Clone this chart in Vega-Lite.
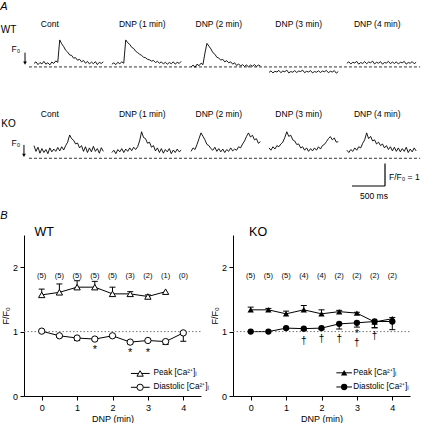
{
"$schema":"https://vega.github.io/schema/vega-lite/v6.json",
"padding":0,
"spacing":2,
"center":false,
"config":{"view":{"stroke":null},"font":"Liberation Sans","text":{"font":"Liberation Sans","color":"black"},"axis":{"labelFont":"Liberation Sans","titleFont":"Liberation Sans","grid":false,"domainColor":"black","tickColor":"black","labelColor":"black","titleColor":"black","titleFontWeight":"normal","labelOverlap":false,"labelFlush":false}},
"datasets":{
"wt":[
{"s":0,"t":0,"v":1.15},{"s":0,"t":30,"v":1.22},{"s":0,"t":60,"v":1.10},{"s":0,"t":90,"v":1.19},{"s":0,"t":120,"v":1.13},{"s":0,"t":150,"v":1.24},{"s":0,"t":180,"v":1.12},{"s":0,"t":210,"v":1.18},{"s":0,"t":240,"v":1.09},{"s":0,"t":270,"v":1.21},{"s":0,"t":300,"v":1.15},{"s":0,"t":330,"v":1.26},{"s":0,"t":360,"v":1.20},{"s":0,"t":390,"v":2.17},{"s":0,"t":420,"v":2.0},{"s":0,"t":450,"v":1.88},{"s":0,"t":480,"v":1.72},{"s":0,"t":510,"v":1.64},{"s":0,"t":540,"v":1.52},{"s":0,"t":570,"v":1.5},{"s":0,"t":600,"v":1.38},{"s":0,"t":630,"v":1.4},{"s":0,"t":660,"v":1.29},{"s":0,"t":690,"v":1.33},{"s":0,"t":720,"v":1.22},{"s":0,"t":750,"v":1.28},{"s":0,"t":780,"v":1.16},{"s":0,"t":810,"v":1.24},{"s":0,"t":840,"v":1.13},{"s":0,"t":870,"v":1.21},{"s":0,"t":900,"v":1.14},{"s":0,"t":930,"v":1.23},{"s":0,"t":960,"v":1.1},{"s":0,"t":990,"v":1.2},{"s":0,"t":1020,"v":1.15},{"s":0,"t":1050,"v":1.22},
{"s":1,"t":1180,"v":1.12},{"s":1,"t":1210,"v":1.18},{"s":1,"t":1240,"v":1.1},{"s":1,"t":1270,"v":1.2},{"s":1,"t":1300,"v":1.14},{"s":1,"t":1330,"v":1.22},{"s":1,"t":1360,"v":1.16},{"s":1,"t":1390,"v":2.17},{"s":1,"t":1420,"v":2.05},{"s":1,"t":1450,"v":1.98},{"s":1,"t":1480,"v":1.85},{"s":1,"t":1510,"v":1.8},{"s":1,"t":1540,"v":1.68},{"s":1,"t":1570,"v":1.62},{"s":1,"t":1600,"v":1.55},{"s":1,"t":1630,"v":1.5},{"s":1,"t":1660,"v":1.42},{"s":1,"t":1690,"v":1.4},{"s":1,"t":1720,"v":1.33},{"s":1,"t":1750,"v":1.31},{"s":1,"t":1780,"v":1.25},{"s":1,"t":1810,"v":1.28},{"s":1,"t":1840,"v":1.19},{"s":1,"t":1870,"v":1.24},{"s":1,"t":1900,"v":1.16},{"s":1,"t":1930,"v":1.22},{"s":1,"t":1960,"v":1.13},{"s":1,"t":1990,"v":1.2},{"s":1,"t":2020,"v":1.12},{"s":1,"t":2050,"v":1.19},{"s":1,"t":2080,"v":1.14},{"s":1,"t":2110,"v":1.22},{"s":1,"t":2140,"v":1.12},{"s":1,"t":2170,"v":1.2},{"s":1,"t":2200,"v":1.15},{"s":1,"t":2230,"v":1.24},
{"s":2,"t":2380,"v":1.0},{"s":2,"t":2410,"v":1.08},{"s":2,"t":2440,"v":0.98},{"s":2,"t":2470,"v":1.12},{"s":2,"t":2500,"v":1.05},{"s":2,"t":2530,"v":1.16},{"s":2,"t":2560,"v":1.1},{"s":2,"t":2590,"v":1.6},{"s":2,"t":2620,"v":2.02},{"s":2,"t":2650,"v":1.9},{"s":2,"t":2680,"v":1.78},{"s":2,"t":2710,"v":1.62},{"s":2,"t":2740,"v":1.55},{"s":2,"t":2770,"v":1.42},{"s":2,"t":2800,"v":1.38},{"s":2,"t":2830,"v":1.3},{"s":2,"t":2860,"v":1.33},{"s":2,"t":2890,"v":1.22},{"s":2,"t":2920,"v":1.27},{"s":2,"t":2950,"v":1.18},{"s":2,"t":2980,"v":1.22},{"s":2,"t":3010,"v":1.12},{"s":2,"t":3040,"v":1.18},{"s":2,"t":3070,"v":1.06},{"s":2,"t":3100,"v":1.13},{"s":2,"t":3130,"v":1.04},{"s":2,"t":3160,"v":1.1},{"s":2,"t":3190,"v":1.02},{"s":2,"t":3220,"v":1.09},{"s":2,"t":3250,"v":1.0},{"s":2,"t":3280,"v":1.08},{"s":2,"t":3310,"v":1.03},{"s":2,"t":3340,"v":1.1},{"s":2,"t":3370,"v":1.02},{"s":2,"t":3400,"v":1.08},{"s":2,"t":3430,"v":1.04},
{"s":3,"t":3560,"v":0.76},{"s":3,"t":3590,"v":0.83},{"s":3,"t":3620,"v":0.74},{"s":3,"t":3650,"v":0.81},{"s":3,"t":3680,"v":0.78},{"s":3,"t":3710,"v":0.85},{"s":3,"t":3740,"v":0.75},{"s":3,"t":3770,"v":0.82},{"s":3,"t":3800,"v":0.79},{"s":3,"t":3830,"v":0.86},{"s":3,"t":3860,"v":0.74},{"s":3,"t":3890,"v":0.8},{"s":3,"t":3920,"v":0.77},{"s":3,"t":3950,"v":0.84},{"s":3,"t":3980,"v":0.76},{"s":3,"t":4010,"v":0.82},{"s":3,"t":4040,"v":0.8},{"s":3,"t":4070,"v":0.86},{"s":3,"t":4100,"v":0.75},{"s":3,"t":4130,"v":0.81},{"s":3,"t":4160,"v":0.78},{"s":3,"t":4190,"v":0.84},{"s":3,"t":4220,"v":0.74},{"s":3,"t":4250,"v":0.8},{"s":3,"t":4280,"v":0.77},{"s":3,"t":4310,"v":0.83},{"s":3,"t":4340,"v":0.76},{"s":3,"t":4370,"v":0.82},{"s":3,"t":4400,"v":0.79},{"s":3,"t":4430,"v":0.85},{"s":3,"t":4460,"v":0.75},{"s":3,"t":4490,"v":0.81},{"s":3,"t":4520,"v":0.78},{"s":3,"t":4550,"v":0.84},{"s":3,"t":4580,"v":0.73},{"s":3,"t":4610,"v":0.8},
{"s":4,"t":4740,"v":1.16},{"s":4,"t":4770,"v":1.22},{"s":4,"t":4800,"v":1.13},{"s":4,"t":4830,"v":1.2},{"s":4,"t":4860,"v":1.17},{"s":4,"t":4890,"v":1.24},{"s":4,"t":4920,"v":1.12},{"s":4,"t":4950,"v":1.19},{"s":4,"t":4980,"v":1.15},{"s":4,"t":5010,"v":1.23},{"s":4,"t":5040,"v":1.14},{"s":4,"t":5070,"v":1.21},{"s":4,"t":5100,"v":1.18},{"s":4,"t":5130,"v":1.25},{"s":4,"t":5160,"v":1.13},{"s":4,"t":5190,"v":1.2},{"s":4,"t":5220,"v":1.16},{"s":4,"t":5250,"v":1.23},{"s":4,"t":5280,"v":1.12},{"s":4,"t":5310,"v":1.19},{"s":4,"t":5340,"v":1.17},{"s":4,"t":5370,"v":1.24},{"s":4,"t":5400,"v":1.14},{"s":4,"t":5430,"v":1.21},{"s":4,"t":5460,"v":1.15},{"s":4,"t":5490,"v":1.22},{"s":4,"t":5520,"v":1.13},{"s":4,"t":5550,"v":1.2},{"s":4,"t":5580,"v":1.18},{"s":4,"t":5610,"v":1.24},{"s":4,"t":5640,"v":1.12},{"s":4,"t":5670,"v":1.19},{"s":4,"t":5700,"v":1.16},{"s":4,"t":5730,"v":1.23},{"s":4,"t":5760,"v":1.14},{"s":4,"t":5790,"v":1.2}
],
"ko":[
{"s":0,"t":0,"v":1.55},{"s":0,"t":30,"v":1.3},{"s":0,"t":60,"v":1.48},{"s":0,"t":90,"v":1.22},{"s":0,"t":120,"v":1.42},{"s":0,"t":150,"v":1.25},{"s":0,"t":180,"v":1.38},{"s":0,"t":210,"v":1.2},{"s":0,"t":240,"v":1.45},{"s":0,"t":270,"v":1.28},{"s":0,"t":300,"v":1.4},{"s":0,"t":330,"v":1.3},{"s":0,"t":360,"v":1.47},{"s":0,"t":390,"v":1.32},{"s":0,"t":420,"v":1.5},{"s":0,"t":450,"v":1.36},{"s":0,"t":480,"v":1.55},{"s":0,"t":510,"v":1.7},{"s":0,"t":540,"v":2.01},{"s":0,"t":570,"v":1.85},{"s":0,"t":600,"v":1.78},{"s":0,"t":630,"v":1.62},{"s":0,"t":660,"v":1.66},{"s":0,"t":690,"v":1.45},{"s":0,"t":720,"v":1.55},{"s":0,"t":750,"v":1.3},{"s":0,"t":780,"v":1.5},{"s":0,"t":810,"v":1.25},{"s":0,"t":840,"v":1.45},{"s":0,"t":870,"v":1.28},{"s":0,"t":900,"v":1.52},{"s":0,"t":930,"v":1.3},{"s":0,"t":960,"v":1.42},{"s":0,"t":990,"v":1.22},{"s":0,"t":1020,"v":1.46},{"s":0,"t":1050,"v":1.3},
{"s":1,"t":1180,"v":1.25},{"s":1,"t":1210,"v":1.35},{"s":1,"t":1240,"v":1.2},{"s":1,"t":1270,"v":1.38},{"s":1,"t":1300,"v":1.28},{"s":1,"t":1330,"v":1.42},{"s":1,"t":1360,"v":1.25},{"s":1,"t":1390,"v":1.4},{"s":1,"t":1420,"v":1.3},{"s":1,"t":1450,"v":1.45},{"s":1,"t":1480,"v":1.33},{"s":1,"t":1510,"v":1.48},{"s":1,"t":1540,"v":1.38},{"s":1,"t":1570,"v":1.5},{"s":1,"t":1600,"v":1.75},{"s":1,"t":1630,"v":2.15},{"s":1,"t":1660,"v":1.9},{"s":1,"t":1690,"v":1.85},{"s":1,"t":1720,"v":1.65},{"s":1,"t":1750,"v":1.7},{"s":1,"t":1780,"v":1.48},{"s":1,"t":1810,"v":1.55},{"s":1,"t":1840,"v":1.32},{"s":1,"t":1870,"v":1.45},{"s":1,"t":1900,"v":1.25},{"s":1,"t":1930,"v":1.42},{"s":1,"t":1960,"v":1.22},{"s":1,"t":1990,"v":1.38},{"s":1,"t":2020,"v":1.28},{"s":1,"t":2050,"v":1.42},{"s":1,"t":2080,"v":1.2},{"s":1,"t":2110,"v":1.36},{"s":1,"t":2140,"v":1.25},{"s":1,"t":2170,"v":1.4},{"s":1,"t":2200,"v":1.28},{"s":1,"t":2230,"v":1.35},
{"s":2,"t":2380,"v":1.3},{"s":2,"t":2410,"v":1.45},{"s":2,"t":2440,"v":1.38},{"s":2,"t":2470,"v":1.6},{"s":2,"t":2500,"v":1.85},{"s":2,"t":2530,"v":2.1},{"s":2,"t":2560,"v":1.95},{"s":2,"t":2590,"v":1.8},{"s":2,"t":2620,"v":1.6},{"s":2,"t":2650,"v":1.55},{"s":2,"t":2680,"v":1.42},{"s":2,"t":2710,"v":1.35},{"s":2,"t":2740,"v":1.48},{"s":2,"t":2770,"v":1.3},{"s":2,"t":2800,"v":1.42},{"s":2,"t":2830,"v":1.28},{"s":2,"t":2860,"v":1.4},{"s":2,"t":2890,"v":1.25},{"s":2,"t":2920,"v":1.38},{"s":2,"t":2950,"v":1.3},{"s":2,"t":2980,"v":1.45},{"s":2,"t":3010,"v":1.32},{"s":2,"t":3040,"v":1.4},{"s":2,"t":3070,"v":1.35},{"s":2,"t":3100,"v":1.5},{"s":2,"t":3130,"v":1.45},{"s":2,"t":3160,"v":1.62},{"s":2,"t":3190,"v":1.75},{"s":2,"t":3220,"v":1.95},{"s":2,"t":3250,"v":2.1},{"s":2,"t":3280,"v":1.92},{"s":2,"t":3310,"v":2.0},{"s":2,"t":3340,"v":1.8},{"s":2,"t":3370,"v":1.85},{"s":2,"t":3400,"v":1.65},{"s":2,"t":3430,"v":1.72},
{"s":3,"t":3560,"v":1.45},{"s":3,"t":3590,"v":1.35},{"s":3,"t":3620,"v":1.5},{"s":3,"t":3650,"v":1.4},{"s":3,"t":3680,"v":1.55},{"s":3,"t":3710,"v":1.5},{"s":3,"t":3740,"v":1.62},{"s":3,"t":3770,"v":1.7},{"s":3,"t":3800,"v":1.9},{"s":3,"t":3830,"v":2.15},{"s":3,"t":3860,"v":1.95},{"s":3,"t":3890,"v":2.0},{"s":3,"t":3920,"v":1.8},{"s":3,"t":3950,"v":1.75},{"s":3,"t":3980,"v":1.6},{"s":3,"t":4010,"v":1.62},{"s":3,"t":4040,"v":1.45},{"s":3,"t":4070,"v":1.5},{"s":3,"t":4100,"v":1.35},{"s":3,"t":4130,"v":1.45},{"s":3,"t":4160,"v":1.3},{"s":3,"t":4190,"v":1.42},{"s":3,"t":4220,"v":1.32},{"s":3,"t":4250,"v":1.45},{"s":3,"t":4280,"v":1.35},{"s":3,"t":4310,"v":1.5},{"s":3,"t":4340,"v":1.4},{"s":3,"t":4370,"v":1.55},{"s":3,"t":4400,"v":1.6},{"s":3,"t":4430,"v":1.72},{"s":3,"t":4460,"v":1.85},{"s":3,"t":4490,"v":1.94},{"s":3,"t":4520,"v":1.8},{"s":3,"t":4550,"v":1.88},{"s":3,"t":4580,"v":1.7},{"s":3,"t":4610,"v":1.72},
{"s":4,"t":4740,"v":1.35},{"s":4,"t":4770,"v":1.25},{"s":4,"t":4800,"v":1.38},{"s":4,"t":4830,"v":1.3},{"s":4,"t":4860,"v":1.45},{"s":4,"t":4890,"v":1.35},{"s":4,"t":4920,"v":1.5},{"s":4,"t":4950,"v":1.45},{"s":4,"t":4980,"v":1.65},{"s":4,"t":5010,"v":1.8},{"s":4,"t":5040,"v":2.1},{"s":4,"t":5070,"v":1.85},{"s":4,"t":5100,"v":1.95},{"s":4,"t":5130,"v":1.75},{"s":4,"t":5160,"v":1.8},{"s":4,"t":5190,"v":1.62},{"s":4,"t":5220,"v":1.7},{"s":4,"t":5250,"v":1.55},{"s":4,"t":5280,"v":1.62},{"s":4,"t":5310,"v":1.45},{"s":4,"t":5340,"v":1.55},{"s":4,"t":5370,"v":1.38},{"s":4,"t":5400,"v":1.5},{"s":4,"t":5430,"v":1.32},{"s":4,"t":5460,"v":1.48},{"s":4,"t":5490,"v":1.3},{"s":4,"t":5520,"v":1.45},{"s":4,"t":5550,"v":1.28},{"s":4,"t":5580,"v":1.42},{"s":4,"t":5610,"v":1.3},{"s":4,"t":5640,"v":1.48},{"s":4,"t":5670,"v":1.25},{"s":4,"t":5700,"v":1.4},{"s":4,"t":5730,"v":1.28},{"s":4,"t":5760,"v":1.45},{"s":4,"t":5790,"v":1.32}
],
"lab":[{"lab":"Cont","t":240},{"lab":"DNP (1 min)","t":1640},{"lab":"DNP (2 min)","t":2800},{"lab":"DNP (3 min)","t":4010},{"lab":"DNP (4 min)","t":5200}],
"b":[
{"p":"WT","ser":"Peak","x":0,"y":1.57,"e":1.66},{"p":"WT","ser":"Peak","x":0.5,"y":1.61,"e":1.74},{"p":"WT","ser":"Peak","x":1,"y":1.69,"e":1.79},{"p":"WT","ser":"Peak","x":1.5,"y":1.69,"e":1.78},{"p":"WT","ser":"Peak","x":2,"y":1.586,"e":1.69},{"p":"WT","ser":"Peak","x":2.5,"y":1.586,"e":1.62},{"p":"WT","ser":"Peak","x":3,"y":1.545,"e":1.57},{"p":"WT","ser":"Peak","x":3.5,"y":1.62},
{"p":"WT","ser":"Diastolic","x":0,"y":1.007},{"p":"WT","ser":"Diastolic","x":0.5,"y":0.935,"e":0.91},{"p":"WT","ser":"Diastolic","x":1,"y":0.9,"e":0.862},{"p":"WT","ser":"Diastolic","x":1.5,"y":0.884,"e":0.86},{"p":"WT","ser":"Diastolic","x":2,"y":0.935,"e":0.91},{"p":"WT","ser":"Diastolic","x":2.5,"y":0.837,"e":0.81},{"p":"WT","ser":"Diastolic","x":3,"y":0.862,"e":0.84},{"p":"WT","ser":"Diastolic","x":3.5,"y":0.845,"e":0.8},{"p":"WT","ser":"Diastolic","x":4,"y":0.98,"e":0.85},
{"p":"KO","ser":"Peak","x":0,"y":1.338,"e":1.38},{"p":"KO","ser":"Peak","x":0.5,"y":1.338,"e":1.36},{"p":"KO","ser":"Peak","x":1,"y":1.276,"e":1.318},{"p":"KO","ser":"Peak","x":1.5,"y":1.338,"e":1.405},{"p":"KO","ser":"Peak","x":2,"y":1.276,"e":1.338},{"p":"KO","ser":"Peak","x":2.5,"y":1.31,"e":1.33},{"p":"KO","ser":"Peak","x":3,"y":1.287,"e":1.3},{"p":"KO","ser":"Peak","x":3.5,"y":1.15,"e":1.06},{"p":"KO","ser":"Peak","x":4,"y":1.2,"e":1.22},
{"p":"KO","ser":"Diastolic","x":0,"y":1.0},{"p":"KO","ser":"Diastolic","x":0.5,"y":1.0},{"p":"KO","ser":"Diastolic","x":1,"y":1.054,"e":1.04},{"p":"KO","ser":"Diastolic","x":1.5,"y":1.046,"e":1.02},{"p":"KO","ser":"Diastolic","x":2,"y":1.054,"e":1.03},{"p":"KO","ser":"Diastolic","x":2.5,"y":1.12,"e":1.04},{"p":"KO","ser":"Diastolic","x":3,"y":1.136,"e":1.07},{"p":"KO","ser":"Diastolic","x":3.5,"y":1.157,"e":1.06},{"p":"KO","ser":"Diastolic","x":4,"y":1.157,"e":1.03}
],
"n":[
{"p":"WT","x":0,"n":"(5)"},{"p":"WT","x":0.5,"n":"(5)"},{"p":"WT","x":1,"n":"(5)"},{"p":"WT","x":1.5,"n":"(5)"},{"p":"WT","x":2,"n":"(5)"},{"p":"WT","x":2.5,"n":"(3)"},{"p":"WT","x":3,"n":"(2)"},{"p":"WT","x":3.5,"n":"(1)"},{"p":"WT","x":4,"n":"(0)"},
{"p":"KO","x":0,"n":"(5)"},{"p":"KO","x":0.5,"n":"(5)"},{"p":"KO","x":1,"n":"(5)"},{"p":"KO","x":1.5,"n":"(4)"},{"p":"KO","x":2,"n":"(4)"},{"p":"KO","x":2.5,"n":"(2)"},{"p":"KO","x":3,"n":"(2)"},{"p":"KO","x":3.5,"n":"(2)"},{"p":"KO","x":4,"n":"(2)"}
],
"sig":[
{"p":"WT","x":1.5,"y":0.76,"m":"*"},{"p":"WT","x":2.5,"y":0.71,"m":"*"},{"p":"WT","x":3,"y":0.71,"m":"*"},
{"p":"KO","x":1.5,"y":0.89,"m":"†"},{"p":"KO","x":2,"y":0.915,"m":"†"},{"p":"KO","x":2.5,"y":0.92,"m":"†"},{"p":"KO","x":3,"y":0.85,"m":"†"},{"p":"KO","x":3.5,"y":0.966,"m":"†"},{"p":"KO","x":3,"y":1.0,"m":"*"}
]
},
"vconcat":[
{"vconcat":[
{"width":401,"height":90,
"layer":[
{"data":{"name":"wt"},"mark":{"type":"line","color":"black","strokeWidth":0.9},"encoding":{"x":{"field":"t","type":"quantitative","scale":{"domain":[-151.5,5924],"nice":false,"zero":false},"axis":null},"y":{"field":"v","type":"quantitative","scale":{"domain":[0,3.9],"nice":false,"zero":false},"axis":null},"detail":{"field":"s"}}},
{"data":{"values":[{}]},"mark":{"type":"rule","strokeDash":[3,2],"color":"black","strokeWidth":0.8},"encoding":{"x":{"datum":-76},"x2":{"datum":5850},"y":{"datum":1}}},
{"data":{"name":"lab"},"mark":{"type":"text","fontSize":8.5,"color":"black"},"encoding":{"x":{"field":"t","type":"quantitative"},"y":{"datum":2.86},"text":{"field":"lab"}}},
{"data":{"values":[{}]},"mark":{"type":"text","text":"WT","fontSize":10,"color":"black"},"encoding":{"x":{"datum":-386},"y":{"datum":2.6}}},
{"data":{"values":[{}]},"mark":{"type":"text","text":"A","fontSize":11,"fontStyle":"italic","color":"black"},"encoding":{"x":{"datum":-455},"y":{"datum":3.6}}},
{"data":{"values":[{}]},"mark":{"type":"text","text":"F₀","fontSize":8.5,"color":"black"},"encoding":{"x":{"datum":-273},"y":{"datum":1.78}}},
{"data":{"values":[{}]},"mark":{"type":"rule","color":"black","strokeWidth":1},"encoding":{"x":{"datum":-136},"y":{"datum":1.62},"y2":{"datum":1.2}}},
{"data":{"values":[{}]},"mark":{"type":"point","shape":"triangle-down","filled":true,"color":"black","opacity":1,"size":14},"encoding":{"x":{"datum":-136},"y":{"datum":1.16}}}
]},
{"width":401,"height":134,
"layer":[
{"data":{"name":"ko"},"mark":{"type":"line","color":"black","strokeWidth":0.9},"encoding":{"x":{"field":"t","type":"quantitative","scale":{"domain":[-151.5,5924],"nice":false,"zero":false},"axis":null},"y":{"field":"v","type":"quantitative","scale":{"domain":[-1.847,3.959],"nice":false,"zero":false},"axis":null},"detail":{"field":"s"}}},
{"data":{"values":[{}]},"mark":{"type":"rule","strokeDash":[3,2],"color":"black","strokeWidth":0.8},"encoding":{"x":{"datum":-76},"x2":{"datum":5850},"y":{"datum":1}}},
{"data":{"name":"lab"},"mark":{"type":"text","fontSize":8.5,"color":"black"},"encoding":{"x":{"field":"t","type":"quantitative"},"y":{"datum":2.92},"text":{"field":"lab"}}},
{"data":{"values":[{}]},"mark":{"type":"text","text":"KO","fontSize":10,"color":"black"},"encoding":{"x":{"datum":-386},"y":{"datum":2.49}}},
{"data":{"values":[{}]},"mark":{"type":"text","text":"F₀","fontSize":8.5,"color":"black"},"encoding":{"x":{"datum":-273},"y":{"datum":1.66}}},
{"data":{"values":[{}]},"mark":{"type":"rule","color":"black","strokeWidth":1},"encoding":{"x":{"datum":-152},"y":{"datum":1.58},"y2":{"datum":1.18}}},
{"data":{"values":[{}]},"mark":{"type":"point","shape":"triangle-down","filled":true,"color":"black","opacity":1,"size":14},"encoding":{"x":{"datum":-152},"y":{"datum":1.13}}},
{"data":{"values":[{}]},"mark":{"type":"rule","color":"black","strokeWidth":1.2},"encoding":{"x":{"datum":5318},"y":{"datum":0.77},"y2":{"datum":-0.2}}},
{"data":{"values":[{}]},"mark":{"type":"rule","color":"black","strokeWidth":1.2},"encoding":{"x":{"datum":4818},"x2":{"datum":5318},"y":{"datum":-0.2}}},
{"data":{"values":[{}]},"mark":{"type":"text","text":"F/F₀ = 1","fontSize":8.5,"align":"left","color":"black"},"encoding":{"x":{"datum":5378},"y":{"datum":0.19}}},
{"data":{"values":[{}]},"mark":{"type":"text","text":"500 ms","fontSize":8.5,"color":"black"},"encoding":{"x":{"datum":5151},"y":{"datum":-0.63}}},
{"data":{"values":[{}]},"mark":{"type":"text","text":"B","fontSize":11,"fontStyle":"italic","color":"black"},"encoding":{"x":{"datum":-455},"y":{"datum":-1.5}}}
]}
],"spacing":0,"center":false},
{"hconcat":[
{"width":177,"height":161,
"layer":[
{"data":{"name":"b"},"transform":[{"filter":"datum.p==='WT'"}],"mark":{"type":"line","color":"black","strokeWidth":1},"encoding":{"x":{"field":"x","type":"quantitative","scale":{"domain":[-0.5,4.5],"nice":false,"zero":false},"axis":{"title":"DNP (min)","values":[0,1,2,3,4],"tickSize":4,"labelPadding":3,"labelFontSize":9,"titleFontSize":9,"titlePadding":2}},"y":{"field":"y","type":"quantitative","scale":{"domain":[0,2.5],"nice":false},"axis":{"title":"F/F₀","values":[0,0.5,1,1.5,2,2.5],"labelExpr":"datum.value % 1 === 0 ? format(datum.value, 'd') : ''","tickSize":4,"labelPadding":2.5,"labelFontSize":9,"titleFontSize":9,"titlePadding":1.5}},"detail":{"field":"ser"}}},
{"data":{"values":[{}]},"mark":{"type":"rule","strokeDash":[1.5,2],"color":"#777","strokeWidth":1},"encoding":{"x":{"datum":-0.5},"x2":{"datum":4.5},"y":{"datum":1}}},
{"data":{"name":"b"},"transform":[{"filter":"datum.p==='WT' && isValid(datum.e)"}],"mark":{"type":"rule","color":"black","strokeWidth":1},"encoding":{"x":{"field":"x","type":"quantitative"},"y":{"field":"y","type":"quantitative"},"y2":{"field":"e"}}},
{"data":{"name":"b"},"transform":[{"filter":"datum.p==='WT' && isValid(datum.e)"}],"mark":{"type":"tick","orient":"horizontal","color":"black","size":6,"thickness":1,"opacity":1},"encoding":{"x":{"field":"x","type":"quantitative"},"y":{"field":"e","type":"quantitative"}}},
{"data":{"name":"b"},"transform":[{"filter":"datum.p==='WT'"}],"mark":{"type":"point","filled":true,"fill":"white","stroke":"black","strokeWidth":1,"opacity":1,"size":40},"encoding":{"x":{"field":"x","type":"quantitative"},"y":{"field":"y","type":"quantitative"},"shape":{"field":"ser","type":"nominal","scale":{"domain":["Peak","Diastolic"],"range":["triangle-up","circle"]},"legend":null}}},
{"data":{"name":"n"},"transform":[{"filter":"datum.p==='WT'"}],"mark":{"type":"text","fontSize":7.5,"color":"black"},"encoding":{"x":{"field":"x","type":"quantitative"},"y":{"datum":1.87},"text":{"field":"n"}}},
{"data":{"name":"sig"},"transform":[{"filter":"datum.p==='WT'"}],"mark":{"type":"text","fontSize":11,"dy":3,"color":"black"},"encoding":{"x":{"field":"x","type":"quantitative"},"y":{"field":"y","type":"quantitative"},"text":{"field":"m"}}},
{"data":{"values":[{}]},"mark":{"type":"text","text":"WT","fontSize":12.5,"color":"black"},"encoding":{"x":{"datum":0.07},"y":{"datum":2.54}}},
{"data":{"values":[{}]},"mark":{"type":"rule","color":"black","strokeWidth":1},"encoding":{"x":{"datum":2.52},"x2":{"datum":3.05},"y":{"datum":0.35}}},
{"data":{"values":[{}]},"mark":{"type":"point","shape":"triangle-up","filled":true,"fill":"white","stroke":"black","strokeWidth":1,"opacity":1,"size":40},"encoding":{"x":{"datum":2.78},"y":{"datum":0.35}}},
{"data":{"values":[{}]},"mark":{"type":"text","text":"Peak [Ca²⁺]ᵢ","fontSize":8.2,"align":"left","color":"black"},"encoding":{"x":{"datum":3.16},"y":{"datum":0.35}}},
{"data":{"values":[{}]},"mark":{"type":"rule","color":"black","strokeWidth":1},"encoding":{"x":{"datum":2.52},"x2":{"datum":3.05},"y":{"datum":0.135}}},
{"data":{"values":[{}]},"mark":{"type":"point","shape":"circle","filled":true,"fill":"white","stroke":"black","strokeWidth":1,"opacity":1,"size":40},"encoding":{"x":{"datum":2.78},"y":{"datum":0.135}}},
{"data":{"values":[{}]},"mark":{"type":"text","text":"Diastolic [Ca²⁺]ᵢ","fontSize":8.2,"align":"left","color":"black"},"encoding":{"x":{"datum":3.16},"y":{"datum":0.135}}}
]},
{"width":177,"height":161,
"layer":[
{"data":{"name":"b"},"transform":[{"filter":"datum.p==='KO'"}],"mark":{"type":"line","color":"black","strokeWidth":1},"encoding":{"x":{"field":"x","type":"quantitative","scale":{"domain":[-0.5,4.5],"nice":false,"zero":false},"axis":{"title":"DNP (min)","values":[0,1,2,3,4],"tickSize":4,"labelPadding":3,"labelFontSize":9,"titleFontSize":9,"titlePadding":2}},"y":{"field":"y","type":"quantitative","scale":{"domain":[0,2.5],"nice":false},"axis":{"title":"F/F₀","values":[0,0.5,1,1.5,2,2.5],"labelExpr":"datum.value % 1 === 0 ? format(datum.value, 'd') : ''","tickSize":4,"labelPadding":2.5,"labelFontSize":9,"titleFontSize":9,"titlePadding":1.5}},"detail":{"field":"ser"}}},
{"data":{"values":[{}]},"mark":{"type":"rule","strokeDash":[1.5,2],"color":"#777","strokeWidth":1},"encoding":{"x":{"datum":-0.5},"x2":{"datum":4.5},"y":{"datum":1}}},
{"data":{"name":"b"},"transform":[{"filter":"datum.p==='KO' && isValid(datum.e)"}],"mark":{"type":"rule","color":"black","strokeWidth":1},"encoding":{"x":{"field":"x","type":"quantitative"},"y":{"field":"y","type":"quantitative"},"y2":{"field":"e"}}},
{"data":{"name":"b"},"transform":[{"filter":"datum.p==='KO' && isValid(datum.e)"}],"mark":{"type":"tick","orient":"horizontal","color":"black","size":6,"thickness":1,"opacity":1},"encoding":{"x":{"field":"x","type":"quantitative"},"y":{"field":"e","type":"quantitative"}}},
{"data":{"name":"b"},"transform":[{"filter":"datum.p==='KO'"}],"mark":{"type":"point","filled":true,"color":"black","opacity":1,"size":40},"encoding":{"x":{"field":"x","type":"quantitative"},"y":{"field":"y","type":"quantitative"},"shape":{"field":"ser","type":"nominal","scale":{"domain":["Peak","Diastolic"],"range":["triangle-up","circle"]},"legend":null}}},
{"data":{"name":"n"},"transform":[{"filter":"datum.p==='KO'"}],"mark":{"type":"text","fontSize":7.5,"color":"black"},"encoding":{"x":{"field":"x","type":"quantitative"},"y":{"datum":1.87},"text":{"field":"n"}}},
{"data":{"name":"sig"},"transform":[{"filter":"datum.p==='KO'"}],"mark":{"type":"text","fontSize":10,"dy":2,"color":"black"},"encoding":{"x":{"field":"x","type":"quantitative"},"y":{"field":"y","type":"quantitative"},"text":{"field":"m"}}},
{"data":{"values":[{}]},"mark":{"type":"text","text":"KO","fontSize":12.5,"color":"black"},"encoding":{"x":{"datum":0.21},"y":{"datum":2.54}}},
{"data":{"values":[{}]},"mark":{"type":"rule","color":"black","strokeWidth":1},"encoding":{"x":{"datum":2.42},"x2":{"datum":2.86},"y":{"datum":0.36}}},
{"data":{"values":[{}]},"mark":{"type":"point","shape":"triangle-up","filled":true,"color":"black","opacity":1,"size":40},"encoding":{"x":{"datum":2.64},"y":{"datum":0.36}}},
{"data":{"values":[{}]},"mark":{"type":"text","text":"Peak [Ca²⁺]ᵢ","fontSize":8.2,"align":"left","color":"black"},"encoding":{"x":{"datum":2.9},"y":{"datum":0.36}}},
{"data":{"values":[{}]},"mark":{"type":"rule","color":"black","strokeWidth":1},"encoding":{"x":{"datum":2.42},"x2":{"datum":2.86},"y":{"datum":0.14}}},
{"data":{"values":[{}]},"mark":{"type":"point","shape":"circle","filled":true,"color":"black","opacity":1,"size":40},"encoding":{"x":{"datum":2.64},"y":{"datum":0.14}}},
{"data":{"values":[{}]},"mark":{"type":"text","text":"Diastolic [Ca²⁺]ᵢ","fontSize":8.2,"align":"left","color":"black"},"encoding":{"x":{"datum":2.9},"y":{"datum":0.14}}}
]}
],"spacing":1,"center":false}
]
}
